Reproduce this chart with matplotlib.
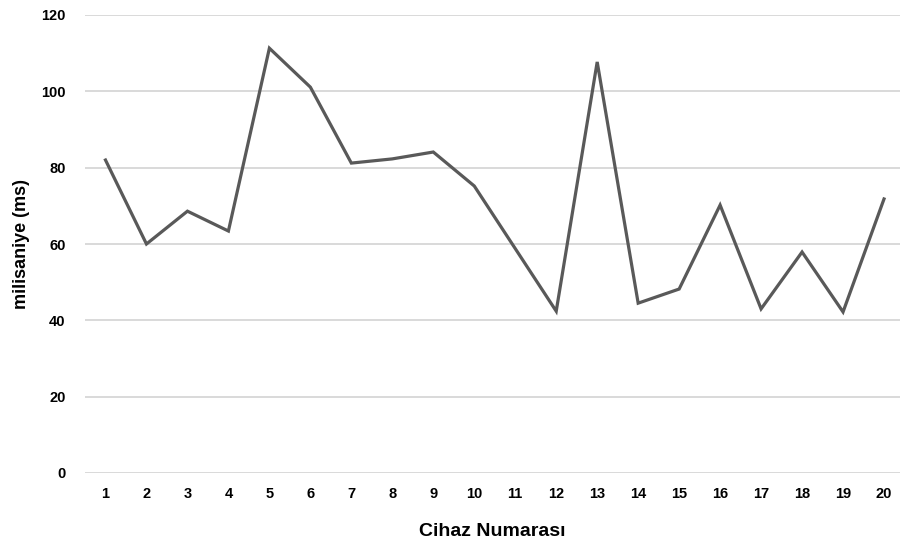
import matplotlib
matplotlib.use("Agg")
import matplotlib.pyplot as plt

# cihaz numaralari ve gecikme degerleri (ms)
devices = list(range(1, 21))
latency = [82.0, 60.0, 68.6, 63.4, 111.3, 101.1, 81.2, 82.3, 84.1, 75.2,
           58.8, 42.4, 107.7, 44.5, 48.2, 70.2, 43.0, 57.9, 42.2, 71.8]
yticks = [0, 20, 40, 60, 80, 100, 120]

plt.rcParams['font.family'] = ['Liberation Sans Narrow', 'Liberation Sans', 'DejaVu Sans']
plt.rcParams['font.weight'] = 'bold'

fig = plt.figure(figsize=(9, 5.44), dpi=100)
ax = fig.add_axes([85 / 900, 1 - 473 / 544, 1 - 85 / 900, (473 - 15) / 544])

ax.plot(devices, latency, color='#595959', linewidth=2.3, solid_joinstyle='miter')

ax.set_xlim(0.5, 20.39)
ax.set_ylim(0, 120)
ax.set_yticks(yticks)
ax.set_xticks(devices)
ax.grid(axis='y', color='#d9d9d9', linewidth=1.4)
ax.set_axisbelow(True)
for s in ax.spines.values():
    s.set_visible(False)
ax.tick_params(length=0, labelsize=10.5, colors='black')
ax.tick_params(axis='y', pad=14)
ax.tick_params(axis='x', pad=10)

ax.set_xlabel('Cihaz Numarası', fontsize=14, fontweight='bold', labelpad=16)
ax.set_ylabel('milisaniye (ms)', fontsize=13, fontweight='bold')
# etiketin sag kenari yaklasik x=30 piksel
ax.yaxis.set_label_coords((30 - 85) / 815, 0.5)

fig.savefig('out.png', dpi=100)
